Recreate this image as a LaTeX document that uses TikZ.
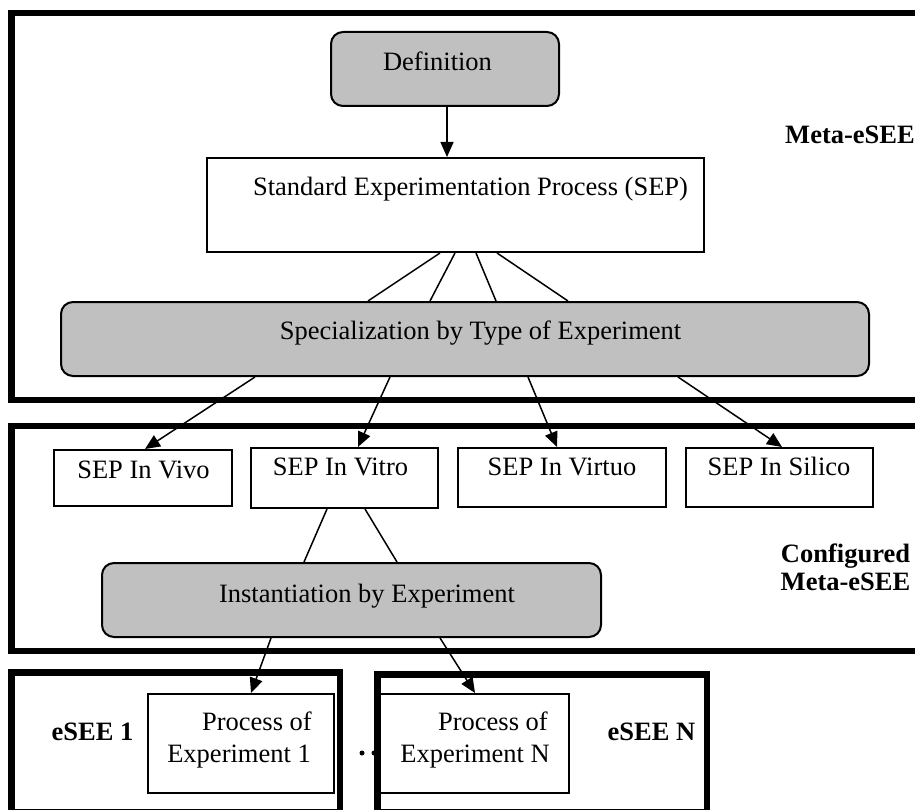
\documentclass[tikz,border=0pt]{standalone}
\usepackage{fontspec}
\setmainfont{Liberation Serif}
\usetikzlibrary{arrows.meta}
\definecolor{boxgray}{RGB}{192,192,192}
\begin{document}
\begin{tikzpicture}[x=1pt,y=-1pt,
  txt/.style={font=\fontsize{26.5}{32}\selectfont, inner sep=0pt, anchor=base},
  btxt/.style={txt, font=\fontsize{26.5}{32}\selectfont\bfseries},
  plainbox/.style={draw, line width=2pt, inner sep=0pt, fill=white},
  graybox/.style={draw, line width=2pt, inner sep=0pt, fill=boxgray, rounded corners=12pt},
  frame/.style={draw, line width=6.5pt, inner sep=0pt},
  link/.style={line width=1.5pt},
  arr/.style={line width=1.5pt, -{Triangle[length=15pt,width=13pt]}},
  dotmark/.style={circle, fill, inner sep=0pt, minimum size=5pt}]
\useasboundingbox (0,0) rectangle (915,810);
\clip (0,0) rectangle (915,810);
% frames
\node[frame, minimum width=923.5pt, minimum height=387pt] (metabox) at (473.25,206.5) {};
\node[frame, minimum width=923.5pt, minimum height=225pt] (confbox) at (473.25,538.5) {};
\node[frame, minimum width=328.5pt, minimum height=140pt] (esee1box) at (175.75,742.5) {};
\node[frame, minimum width=329.5pt, minimum height=138pt] (eseeNbox) at (542.25,743.5) {};
% boxes
\node[graybox, minimum width=228pt, minimum height=74pt] (def) at (445,69) {};
\node[plainbox, minimum width=497pt, minimum height=94pt] (sep) at (455.5,205) {};
\node[graybox, minimum width=808pt, minimum height=74pt] (spec) at (465,339) {};
\node[plainbox, minimum width=178pt, minimum height=56pt] (vivo) at (143,478) {};
\node[plainbox, minimum width=187pt, minimum height=60pt] (vitro) at (344.5,478) {};
\node[plainbox, minimum width=208pt, minimum height=59pt] (virtuo) at (562,477.5) {};
\node[plainbox, minimum width=187pt, minimum height=59pt] (silico) at (779.5,477.5) {};
\node[graybox, minimum width=499pt, minimum height=74pt] (inst) at (351.5,600) {};
\node[plainbox, minimum width=186pt, minimum height=99pt] (proc1) at (241,743.5) {};
\node[plainbox, minimum width=189pt, minimum height=99pt] (procN) at (474.5,743.5) {};
% connectors
\draw[arr] ([xshift=2pt]def.south) -- ([xshift=-8.5pt]sep.north);
\draw[link] ([xshift=-15.5pt]sep.south) -- ([xshift=-97pt]spec.north);
\draw[link] ([xshift=-0.5pt]sep.south) -- ([xshift=-35pt]spec.north);
\draw[link] ([xshift=20.5pt]sep.south) -- ([xshift=31pt]spec.north);
\draw[link] ([xshift=41.5pt]sep.south) -- ([xshift=103pt]spec.north);
\draw[arr] ([xshift=-210pt]spec.south) -- ([xshift=2pt]vivo.north);
\draw[arr] ([xshift=-75pt]spec.south) -- ([xshift=13.5pt]vitro.north);
\draw[arr] ([xshift=63pt]spec.south) -- ([xshift=-5pt]virtuo.north);
\draw[arr] ([xshift=213pt]spec.south) -- ([xshift=2.5pt]silico.north);
\draw[link] ([xshift=-17.5pt]vitro.south) -- ([xshift=-47.5pt]inst.north);
\draw[link] ([xshift=20.5pt]vitro.south) -- ([xshift=45.5pt]inst.north);
\draw[arr] ([xshift=-80.5pt]inst.south) -- ([xshift=10pt]proc1.north);
\draw[arr] ([xshift=88.5pt]inst.south) -- ([xshift=0.5pt]procN.north);
% dots
\node[dotmark] (dot1) at (362,753) {};
\node[dotmark] (dot2) at (374,753) {};
% texts
\node[txt] (deft) at (437.5,71) {Definition};
\node[txt] (sept) at (470.5,196) {Standard Experimentation Process (SEP)};
\node[btxt] (metat) at (850,144) {Meta-eSEE};
\node[txt] (spect) at (480.5,339) {Specialization by Type of Experiment};
\node[txt] (vivot) at (143.5,478) {SEP In Vivo};
\node[txt] (vitrot) at (340.5,475) {SEP In Vitro};
\node[txt] (virtuot) at (562,475) {SEP In Virtuo};
\node[txt] (silicot) at (779,475) {SEP In Silico};
\node[txt] (instt) at (367,602) {Instantiation by Experiment};
\node[btxt] (cfga) at (845.5,562) {Configured};
\node[btxt] (cfgb) at (845.5,590) {Meta-eSEE};
\node[btxt] (esee1t) at (92.5,740) {eSEE 1};
\node[btxt] (eseeNt) at (651.5,740) {eSEE N};
\node[txt, anchor=base east] (p1a) at (312,730) {Process of};
\node[txt, anchor=base east] (p1b) at (311,762) {Experiment 1};
\node[txt, anchor=base east] (pNa) at (548,730) {Process of};
\node[txt, anchor=base east] (pNb) at (550,762) {Experiment N};
\end{tikzpicture}
\end{document}
